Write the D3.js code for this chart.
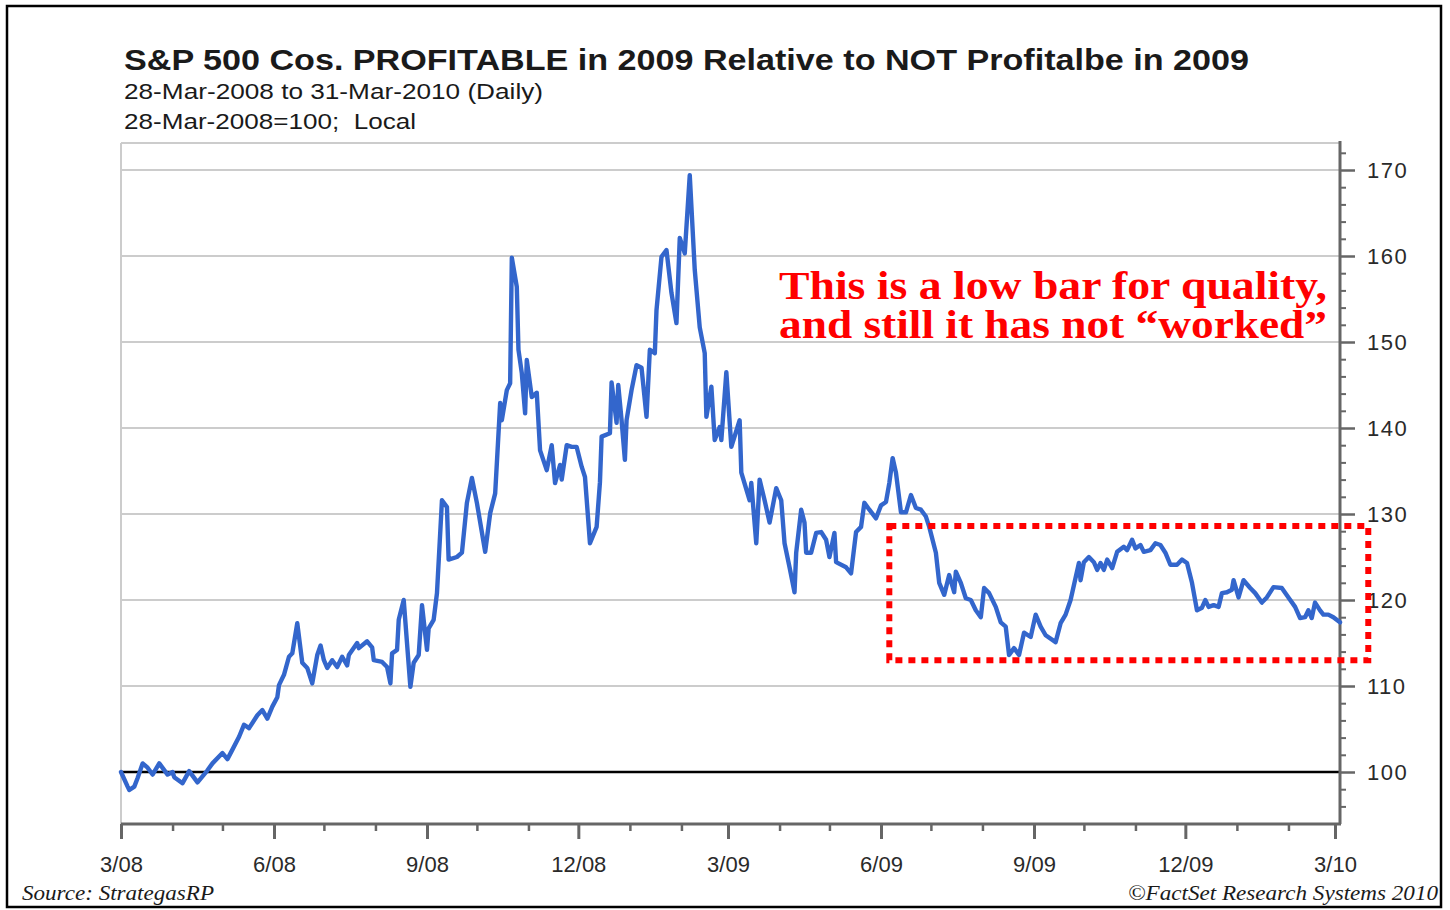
<!DOCTYPE html>
<html>
<head>
<meta charset="utf-8">
<script src="https://cdn.jsdelivr.net/npm/d3@7"></script>
<style>
  body { margin: 0; background: #ffffff; }
  svg { display: block; }
</style>
</head>
<body>
<div id="chart"></div>
<script>
// Series: calendar days after 28-Mar-2008, and index level (28-Mar-2008 = 100)
const startDate = new Date(2008, 2, 28);
const endDate = new Date(2010, 2, 31);

const days = [0,4,5,8,10,13,16,19,23,28,31,32,37,41,46,52,55,61,64,67,71,74,77,82,85,88,91,94,95,98,
  101,103,106,109,112,115,118,120,122,124,127,130,133,136,137,142,143,148,151,152,157,160,162,163,166,167,170,174,176,179,
  181,184,185,188,190,193,196,197,202,205,208,211,214,219,222,225,226,228,229,232,234,235,238,239,241,243,244,247,250,252,
  256,259,261,264,265,268,271,274,277,279,282,286,288,289,294,295,298,299,301,303,304,307,310,313,316,318,321,322,325,328,
  331,334,336,339,342,345,348,351,352,355,357,360,361,364,367,372,373,378,379,382,384,387,390,394,397,399,402,405,406,409,
  411,412,415,418,421,424,426,429,430,436,439,442,445,447,450,454,457,460,462,464,466,469,472,475,478,481,484,486,490,492,
  495,498,501,502,505,508,511,514,517,519,522,526,529,532,534,537,540,543,547,550,553,556,562,565,568,571,576,577,579,582,
  585,587,589,591,593,596,599,603,605,608,610,613,615,619,622,625,628,631,635,638,641,644,647,650,652,654,657,660,662,665,
  668,669,672,675,679,682,686,689,693,698,702,706,709,712,714,716,718,721,723,726,729,733];

const values = [100.0,98.3,97.9,98.3,99.3,101.0,100.5,99.7,101.0,99.7,100.0,99.4,98.7,100.1,98.8,100.2,101.0,102.2,101.5,102.6,104.1,105.5,105.1,106.6,107.2,106.2,107.6,108.7,110.1,111.3,
  113.4,113.8,117.3,112.7,112.1,110.3,113.6,114.7,113.0,112.1,113.0,112.2,113.4,112.4,113.6,115.0,114.4,115.2,114.5,113.0,112.8,112.2,110.3,113.8,114.2,117.7,120.0,109.9,112.7,113.6,
  119.4,114.2,116.7,117.7,120.8,131.6,130.8,124.7,125.0,125.5,131.3,134.2,131.3,125.6,130.1,132.4,135.9,142.9,140.9,144.4,145.2,159.8,156.4,149.1,146.4,141.7,147.9,143.6,144.1,137.4,
  135.1,138.0,133.6,135.7,134.0,138.0,137.8,137.8,135.5,134.3,126.6,128.5,133.7,139.0,139.4,145.3,140.6,145.0,140.9,136.3,140.9,144.4,147.3,147.0,141.3,149.1,148.7,153.7,159.9,160.7,
  155.7,152.2,162.1,160.3,169.4,158.4,151.7,148.7,141.3,144.8,138.6,140.1,138.6,146.5,137.8,140.9,134.8,131.6,133.6,126.6,134.0,131.6,129.0,133.0,131.6,126.6,123.8,120.9,125.5,130.5,
  129.0,125.5,125.5,127.8,127.9,127.0,125.0,127.8,124.4,123.8,123.1,127.9,128.5,131.3,130.5,129.5,131.0,131.4,133.6,136.5,134.8,130.2,130.2,132.2,130.7,130.5,129.7,128.5,125.5,122.0,
  120.6,122.9,120.9,123.3,122.0,120.2,120.0,118.8,118.0,121.4,120.8,119.2,117.4,116.9,113.6,114.4,113.6,116.2,115.7,118.3,116.9,115.9,115.1,117.3,118.3,120.0,124.3,122.3,124.4,125.0,
  124.4,123.5,124.3,123.5,124.7,123.7,125.6,126.2,125.8,127.0,126.0,126.4,125.6,125.8,126.6,126.4,125.5,124.1,124.1,124.7,124.3,122.0,118.8,119.1,120.0,119.2,119.4,119.2,120.8,120.9,
  121.2,122.3,120.3,122.3,121.4,120.8,119.7,120.3,121.5,121.4,120.3,119.2,117.9,118.0,118.8,117.9,119.7,118.8,118.3,118.3,118.0,117.4];

// Axis ticks
const yMajorTicks = [100, 110, 120, 130, 140, 150, 160, 170];
const yMinorTicks = [96, 98, 102, 104, 106, 108, 112, 114, 116, 118, 122, 124, 126, 128,
  132, 134, 136, 138, 142, 144, 146, 148, 152, 154, 156, 158, 162, 164, 166, 168, 172];
const xTickCount = 24; // one tick a month from the start date
const baseLevel = 100;

// Annotation box (dates and levels)
const boxStart = new Date(2009, 6, 3);
const boxEnd = new Date(2010, 3, 17);
const boxHigh = 128.6;
const boxLow = 113.0;

// Texts
const titleText = "S&P 500 Cos. PROFITABLE in 2009 Relative to NOT Profitalbe in 2009";
const subtitle1 = "28-Mar-2008 to 31-Mar-2010 (Daily)";
const subtitle2 = "28-Mar-2008=100;  Local";
const noteLines = ["This is a low bar for quality,", "and still it has not \u201cworked\u201d"];
const sourceText = "Source: StrategasRP";
const copyText = "\u00a9FactSet Research Systems 2010";

// Colors
const lineColor = "#3366cc";
const gridColor = "#cccccc";
const axisColor = "#666666";
const textColor = "#1a1a1a";
const noteColor = "#ff0000";

// Dimensions
const width = 1450;
const height = 910;
const plotLeft = 121;
const plotRight = 1340;
const plotTop = 143;
const plotBottom = 824;

const svg = d3.select("#chart")
  .append("svg")
  .attr("width", width)
  .attr("height", height);

svg.append("rect")
  .attr("x", 0).attr("y", 0)
  .attr("width", width).attr("height", height)
  .attr("fill", "#ffffff");

// outer frame
svg.append("rect")
  .attr("x", 7).attr("y", 6)
  .attr("width", 1434).attr("height", 901)
  .attr("fill", "none")
  .attr("stroke", "#000")
  .attr("stroke-width", 2.5);

const x = d3.scaleTime()
  .domain([startDate, endDate])
  .range([plotLeft, plotRight]);

const y = d3.scaleLinear()
  .domain([100, 170])
  .range([772, 170]);

const data = d3.range(Math.min(days.length, values.length)).map(i => ({
  date: d3.timeDay.offset(startDate, days[i]),
  value: values[i]
}));

// gridlines
svg.append("g")
  .selectAll("line")
  .data(yMajorTicks.filter(v => v !== baseLevel))
  .enter()
  .append("line")
  .attr("x1", plotLeft)
  .attr("x2", plotRight)
  .attr("y1", d => y(d))
  .attr("y2", d => y(d))
  .attr("stroke", gridColor)
  .attr("stroke-width", 2);

// top and left frame of plot
svg.append("line")
  .attr("x1", plotLeft).attr("x2", plotRight)
  .attr("y1", plotTop).attr("y2", plotTop)
  .attr("stroke", gridColor).attr("stroke-width", 2);
svg.append("line")
  .attr("x1", plotLeft).attr("x2", plotLeft)
  .attr("y1", plotTop).attr("y2", plotBottom)
  .attr("stroke", gridColor).attr("stroke-width", 2);

// base level line
svg.append("line")
  .attr("x1", plotLeft).attr("x2", plotRight)
  .attr("y1", y(baseLevel)).attr("y2", y(baseLevel))
  .attr("stroke", "#000").attr("stroke-width", 2.5);

// right axis
const yAxisMajor = d3.axisRight(y)
  .tickValues(yMajorTicks)
  .tickSize(15)
  .tickPadding(12)
  .tickFormat(d3.format("d"));

const yAxisMinor = d3.axisRight(y)
  .tickValues(yMinorTicks)
  .tickSize(6)
  .tickFormat("");

const yMinorG = svg.append("g")
  .attr("transform", `translate(${plotRight},0)`)
  .call(yAxisMinor);
yMinorG.select(".domain").remove();
yMinorG.selectAll("line").attr("stroke", axisColor).attr("stroke-width", 2);

const yG = svg.append("g")
  .attr("transform", `translate(${plotRight},0)`)
  .call(yAxisMajor);
yG.select(".domain").remove();
yG.selectAll("line").attr("stroke", axisColor).attr("stroke-width", 2.5);
yG.selectAll("text")
  .attr("fill", "#2a2a2a")
  .attr("font-family", "'Liberation Sans', Arial, sans-serif")
  .attr("font-size", "22px")
  .attr("letter-spacing", "1.5px");

svg.append("line")
  .attr("x1", plotRight).attr("x2", plotRight)
  .attr("y1", plotTop - 2).attr("y2", plotBottom)
  .attr("stroke", axisColor).attr("stroke-width", 3);

// bottom axis: monthly ticks, labels each quarter
const xTicks = d3.range(xTickCount + 1).map(i => d3.timeMonth.offset(startDate, i));
const fmt = d3.timeFormat("%-m/%y");
const isMajor = d => d.getMonth() % 3 === 2;

const xAxisMinor = d3.axisBottom(x)
  .tickValues(xTicks.filter(d => !isMajor(d)))
  .tickSize(7)
  .tickFormat("");

const xAxisMajor = d3.axisBottom(x)
  .tickValues(xTicks.filter(isMajor))
  .tickSize(15)
  .tickPadding(17)
  .tickFormat(fmt);

const xMinorG = svg.append("g")
  .attr("transform", `translate(0,${plotBottom})`)
  .call(xAxisMinor);
xMinorG.select(".domain").remove();
xMinorG.selectAll("line").attr("stroke", axisColor).attr("stroke-width", 2.5);

const xG = svg.append("g")
  .attr("transform", `translate(0,${plotBottom})`)
  .call(xAxisMajor);
xG.select(".domain").remove();
xG.selectAll("line").attr("stroke", axisColor).attr("stroke-width", 3);
xG.selectAll("text")
  .attr("fill", "#2a2a2a")
  .attr("font-family", "'Liberation Sans', Arial, sans-serif")
  .attr("font-size", "22px");

svg.append("line")
  .attr("x1", plotLeft).attr("x2", plotRight + 1)
  .attr("y1", plotBottom).attr("y2", plotBottom)
  .attr("stroke", axisColor).attr("stroke-width", 3);

// series line
const line = d3.line()
  .x(d => x(d.date))
  .y(d => y(d.value));

svg.append("path")
  .datum(data)
  .attr("d", line)
  .attr("fill", "none")
  .attr("stroke", lineColor)
  .attr("stroke-width", 4.4)
  .attr("stroke-linejoin", "round")
  .attr("stroke-linecap", "round");

// red dotted box
svg.append("rect")
  .attr("x", x(boxStart))
  .attr("y", y(boxHigh))
  .attr("width", x(boxEnd) - x(boxStart))
  .attr("height", y(boxLow) - y(boxHigh))
  .attr("fill", "none")
  .attr("stroke", noteColor)
  .attr("stroke-width", 6)
  .attr("stroke-dasharray", "7,6");

// annotation
svg.append("g")
  .selectAll("text")
  .data(noteLines)
  .enter()
  .append("text")
  .attr("x", 779)
  .attr("y", (d, i) => 299 + i * 39)
  .attr("fill", noteColor)
  .attr("font-family", "'Liberation Serif', 'Times New Roman', serif")
  .attr("font-weight", "bold")
  .attr("font-size", "39px")
  .attr("textLength", 548)
  .attr("lengthAdjust", "spacingAndGlyphs")
  .text(d => d);

// titles
function addText(str, xPos, yPos, size, len, opts) {
  const t = svg.append("text")
    .attr("x", xPos)
    .attr("y", yPos)
    .attr("fill", textColor)
    .attr("font-family", opts.family || "'Liberation Sans', Arial, sans-serif")
    .attr("font-size", size + "px")
    .attr("font-weight", opts.weight || "normal")
    .attr("font-style", opts.style || "normal")
    .attr("textLength", len)
    .attr("lengthAdjust", "spacingAndGlyphs")
    .style("white-space", "pre")
    .text(str);
  return t;
}

addText(titleText, 124, 70, 30, 1125, { weight: "bold" });
addText(subtitle1, 124, 99, 22, 419, {});
addText(subtitle2, 124, 129, 22, 292, {});
addText(sourceText, 22, 900, 21, 192, { family: "'Liberation Serif', 'Times New Roman', serif", style: "italic" });
addText(copyText, 1128, 900, 21, 310, { family: "'Liberation Serif', 'Times New Roman', serif", style: "italic" });
</script>
</body>
</html>
